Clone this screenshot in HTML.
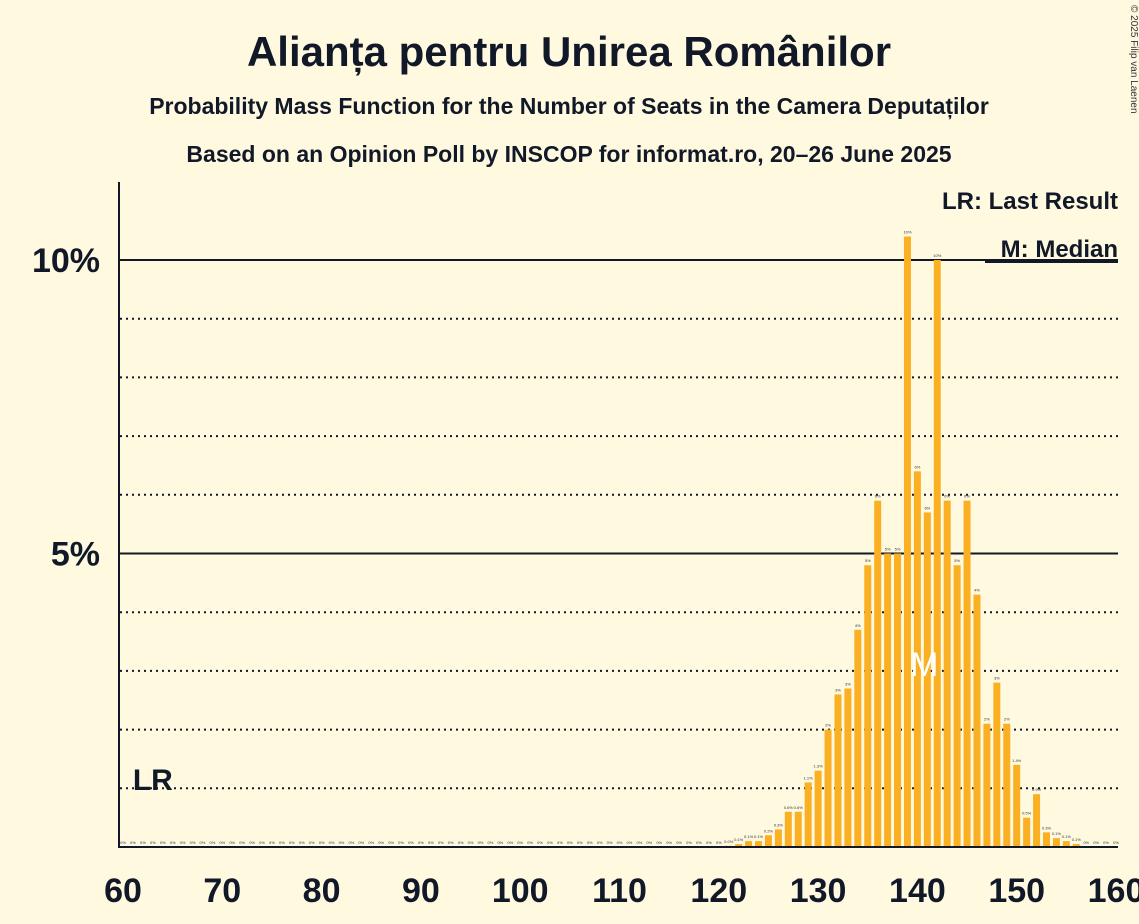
<!DOCTYPE html>
<html><head><meta charset="utf-8"><style>
body{margin:0;background:#fff9e0;}
svg{display:block;font-family:"Liberation Sans",sans-serif;}
</style></head><body>
<svg width="1139" height="924" viewBox="0 0 1139 924">
<rect width="1139" height="924" fill="#fff9e0"/>
<text x="569" y="66" text-anchor="middle" font-size="42" font-weight="bold" fill="#111827">Alianța pentru Unirea Românilor</text>
<text x="569" y="114" text-anchor="middle" font-size="23" font-weight="bold" fill="#111827">Probability Mass Function for the Number of Seats in the Camera Deputaților</text>
<text x="569" y="162" text-anchor="middle" font-size="23" font-weight="bold" fill="#111827">Based on an Opinion Poll by INSCOP for informat.ro, 20–26 June 2025</text>
<text x="1131" y="5" transform="rotate(90 1131 5)" font-size="10" fill="#333">© 2025 Filip van Laenen</text>
<g id="grid"></g>
<g id="bars"></g>
<g id="axes"></g>
<text x="1118" y="209" text-anchor="end" font-size="24" font-weight="bold" fill="#111827">LR: Last Result</text>
<text x="1118" y="257" text-anchor="end" font-size="24" font-weight="bold" fill="#111827">M: Median</text>
<line x1="985" y1="262" x2="1118" y2="262" stroke="#111827" stroke-width="2"/>
</svg>
<script>
const seats=[];for(let s=60;s<=160;s++)seats.push(s);
const valuesNonZero={121:0.02,122:0.05,123:0.1,124:0.1,125:0.2,126:0.3,127:0.6,128:0.6,129:1.1,130:1.3,131:2.0,132:2.6,133:2.7,134:3.7,135:4.8,136:5.9,137:5.0,138:5.0,139:10.4,140:6.4,141:5.7,142:10.0,143:5.9,144:4.8,145:5.9,146:4.3,147:2.1,148:2.8,149:2.1,150:1.4,151:0.5,152:0.9,153:0.25,154:0.15,155:0.1,156:0.05};
const xTicks=[60,70,80,90,100,110,120,130,140,150,160];
const yTicksMajor=[5,10];
const yTicksMinor=[1,2,3,4,6,7,8,9];
const lastResult=62, median=141;
const NS="http://www.w3.org/2000/svg";
const X=s=>123+(s-60)*9.93;
const Y=v=>847-v*58.7;
function mk(tag,attrs,parent,name){const e=document.createElementNS(NS,tag);for(const k in attrs)e.setAttribute(k,attrs[k]);parent.appendChild(e);return e;}
const grid=document.getElementById('grid'),bars=document.getElementById('bars'),axes=document.getElementById('axes');
yTicksMinor.forEach(v=>{const l=mk('line',{x1:120,x2:1118,y1:Y(v),y2:Y(v),stroke:'#111827','stroke-width':2,'stroke-dasharray':'2,4'},grid);

});
yTicksMajor.forEach(v=>{const l=mk('line',{x1:120,x2:1118,y1:Y(v),y2:Y(v),stroke:'#111827','stroke-width':2},grid);


const t=mk('text',{x:100,y:Y(v)+12,'text-anchor':'end','font-size':34,'font-weight':'bold',fill:'#111827'},axes);t.textContent=v+'%';

});
seats.forEach(s=>{const v=valuesNonZero[s]||0;
if(v>0){const r=mk('rect',{x:X(s)-3.5,y:Y(v),width:7,height:847-Y(v),fill:'#fbb024'},bars);

}
const lab=v===0?'0%':(v<2?v.toFixed(1)+'%':Math.round(v)+'%');
const t=mk('text',{x:X(s),y:Y(v)-3,'text-anchor':'middle','font-size':4,fill:'#333'},bars);t.textContent=lab;

});
const m=mk('text',{x:X(median)-3,y:676,'text-anchor':'middle','font-size':34,fill:'#fff'},bars);m.textContent='M';


const lr=mk('text',{x:X(lastResult)+10,y:790,'text-anchor':'middle','font-size':30,'font-weight':'bold',fill:'#111827'},bars);lr.textContent='LR';


const ya=mk('line',{x1:119,x2:119,y1:182,y2:848,stroke:'#111827','stroke-width':2},axes);


const xa=mk('line',{x1:119,x2:1118,y1:847,y2:847,stroke:'#111827','stroke-width':2},axes);


xTicks.forEach(s=>{const t=mk('text',{x:X(s),y:902,'text-anchor':'middle','font-size':34,'font-weight':'bold',fill:'#111827'},axes);t.textContent=s;

});
</script>
</body></html>
